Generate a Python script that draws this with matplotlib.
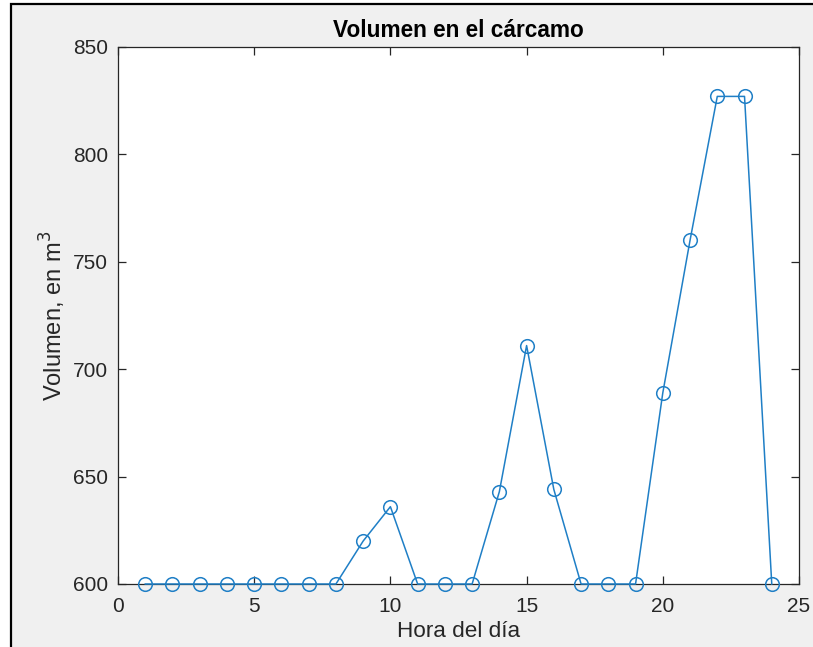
import matplotlib.pyplot as plt
from matplotlib.patches import Rectangle

# Volumen por hora
hora = [1, 2, 3, 4, 5, 6, 7, 8, 9, 10, 11, 12, 13, 14, 15, 16, 17, 18, 19, 20, 21, 22, 23, 24]
volumen = [600, 600, 600, 600, 600, 600, 600, 600, 620, 636, 600, 600, 600, 643,
           711, 644, 600, 600, 600, 689, 760, 827, 827, 600]

x_ticks = [0, 5, 10, 15, 20, 25]
y_ticks = [600, 650, 700, 750, 800, 850]

plt.rcParams['font.family'] = ['Liberation Sans', 'DejaVu Sans']
W, H = 813, 647
fig = plt.figure(figsize=(W / 100, H / 100), dpi=100, facecolor='white')

# marco de la ventana
fig.patches.append(Rectangle((11 / W, -0.1), 1.2, 1.1 - 4 / H, transform=fig.transFigure,
                             facecolor='#f0f0f0', edgecolor='black', linewidth=1.6, zorder=-10))

ax = fig.add_axes([118 / W, 1 - 584 / H, (799 - 118) / W, (584 - 47) / H])
ax.set_facecolor('white')
ax.plot(hora, volumen, color='#1f7fc6', linewidth=1.1, marker='o', markersize=9.8,
        markerfacecolor='none', markeredgewidth=1.1, clip_on=False, zorder=3)

ax.set_xlim(0, 25)
ax.set_ylim(600, 850)
ax.set_xticks(x_ticks)
ax.set_yticks(y_ticks)
ax.tick_params(direction='in', length=6, width=0.9, colors='#262626', labelsize=15,
               top=True, right=True)
ax.tick_params(axis='x', pad=9)
ax.tick_params(axis='y', pad=7)
for s in ax.spines.values():
    s.set_color('#262626')
    s.set_linewidth(0.9)

ax.set_title('Volumen en el cárcamo', fontsize=16.3, fontweight='bold', color='black', pad=7)
ax.set_xlabel('Hora del día', fontsize=16.2, color='#262626', labelpad=4)
ax.set_ylabel('Volumen, en m$^3$', fontsize=17, color='#262626', labelpad=4)

fig.savefig('out.png', dpi=100, facecolor=fig.get_facecolor())
